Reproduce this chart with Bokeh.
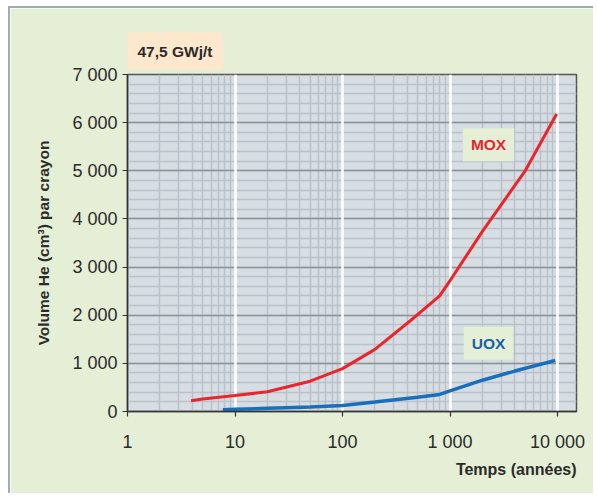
from bokeh.plotting import figure
from bokeh.models import FixedTicker, Label, Grid, Range1d, Title
from bokeh.embed import file_html
from bokeh.resources import INLINE

# ---- data ----
mox_years = [3.9, 5, 10, 20, 50, 100, 200, 430, 800, 1000, 2000, 5000, 9800]
mox_volume = [225, 260, 330, 410, 630, 890, 1290, 1890, 2400, 2720, 3740, 5000, 6180]

uox_years = [7.7, 10, 20, 50, 100, 200, 500, 800, 1000, 2000, 4000, 9500]
uox_volume = [35, 45, 67, 92, 125, 195, 295, 355, 430, 650, 840, 1060]

x_ticks = [1, 10, 100, 1000, 10000]
x_tick_labels = ["1", "10", "100", "1 000", "10 000"]
y_ticks = [0, 1000, 2000, 3000, 4000, 5000, 6000, 7000]
y_tick_labels = ["0", "1 000", "2 000", "3 000", "4 000", "5 000", "6 000", "7 000"]

x_minor = [k * 10 ** d for d in range(0, 5) for k in range(2, 10) if k * 10 ** d <= 15000]
y_minor = list(range(0, 7001, 200))

FONT = "Liberation Sans"
PANEL = "#e4efd6"
TEXT = "#2b2b2b"

p = figure(width=585, height=487, x_axis_type="log",
           x_range=Range1d(1, 15000), y_range=Range1d(0, 7000),
           output_backend="svg", toolbar_location=None,
           min_border_left=117, min_border_right=19,
           min_border_top=66, min_border_bottom=84)

p.background_fill_color = "#d6dde3"
p.border_fill_color = PANEL
p.outline_line_color = "#555555"
p.outline_line_width = 1.5
p.styles = {"margin-left": "8px", "margin-top": "6px",
            "border-left": "2px solid #a3abb0", "border-top": "2px solid #a3abb0"}

# grids
p.xgrid.ticker = FixedTicker(ticks=x_ticks, minor_ticks=x_minor)
p.xgrid.grid_line_color = None
p.xgrid.minor_grid_line_color = "#bac1c8"
p.xgrid.minor_grid_line_width = 1.5

p.ygrid.ticker = FixedTicker(ticks=y_ticks, minor_ticks=y_minor)
p.ygrid.grid_line_color = "#8b9399"
p.ygrid.grid_line_width = 1.5
p.ygrid.minor_grid_line_color = "#bac1c8"
p.ygrid.minor_grid_line_width = 1.5

white_grid = Grid(dimension=0, ticker=FixedTicker(ticks=x_ticks[1:]),
                  grid_line_color="white", grid_line_width=2.5)
p.add_layout(white_grid)

# axes
p.xaxis.ticker = FixedTicker(ticks=x_ticks)
p.xaxis.major_label_overrides = {t: l for t, l in zip(x_ticks, x_tick_labels)}
p.yaxis.ticker = FixedTicker(ticks=y_ticks)
p.yaxis.major_label_overrides = {t: l for t, l in zip(y_ticks, y_tick_labels)}
for ax in (p.xaxis[0], p.yaxis[0]):
    ax.axis_line_color = "#333333"
    ax.axis_line_width = 1.5
    ax.major_tick_line_color = "#333333"
    ax.major_tick_line_width = 1.2
    ax.major_tick_out = 5
    ax.major_tick_in = 0
    ax.minor_tick_line_color = None
    ax.major_label_text_font = FONT
    ax.major_label_text_font_size = "18px"
    ax.major_label_text_color = TEXT
p.xaxis.major_label_standoff = 15
p.yaxis.major_label_standoff = 5

# curves
p.line(mox_years, mox_volume, line_color="#e8262c", line_width=3)
p.line(uox_years, uox_volume, line_color="#1a6fbb", line_width=3.5)

# series labels inside the frame
p.add_layout(Label(x=2280, y=5540, text="MOX", text_align="center",
                   text_baseline="middle", text_font=FONT,
                   text_font_style="bold", text_font_size="15.5px",
                   text_color="#e8262c", background_fill_color=PANEL,
                   padding=8))
p.add_layout(Label(x=2280, y=1420, text="UOX", text_align="center",
                   text_baseline="middle", text_font=FONT,
                   text_font_style="bold", text_font_size="15.5px",
                   text_color="#1a5fa8", background_fill_color=PANEL,
                   padding=8))

# burn-up box above the frame
p.title.text = "47,5 GWj/t"
p.title.align = "left"
p.title.text_font = FONT
p.title.text_font_style = "bold"
p.title.text_font_size = "15.5px"
p.title.text_color = TEXT
p.title.background_fill_color = "#fde8ce"
p.title.padding = 10
p.title.standoff = 10

# axis titles placed like the reference
p.add_layout(Title(text="Temps (années)", align="right", text_font=FONT,
                   text_font_style="bold", text_font_size="16px",
                   text_color=TEXT, standoff=8), "below")
p.add_layout(Title(text="Volume He (cm³) par crayon", align="center",
                   offset=76, text_font=FONT, text_font_style="bold",
                   text_font_size="15.5px", text_color=TEXT, standoff=35), "left")

open("out.html", "w").write(file_html(p, INLINE))
